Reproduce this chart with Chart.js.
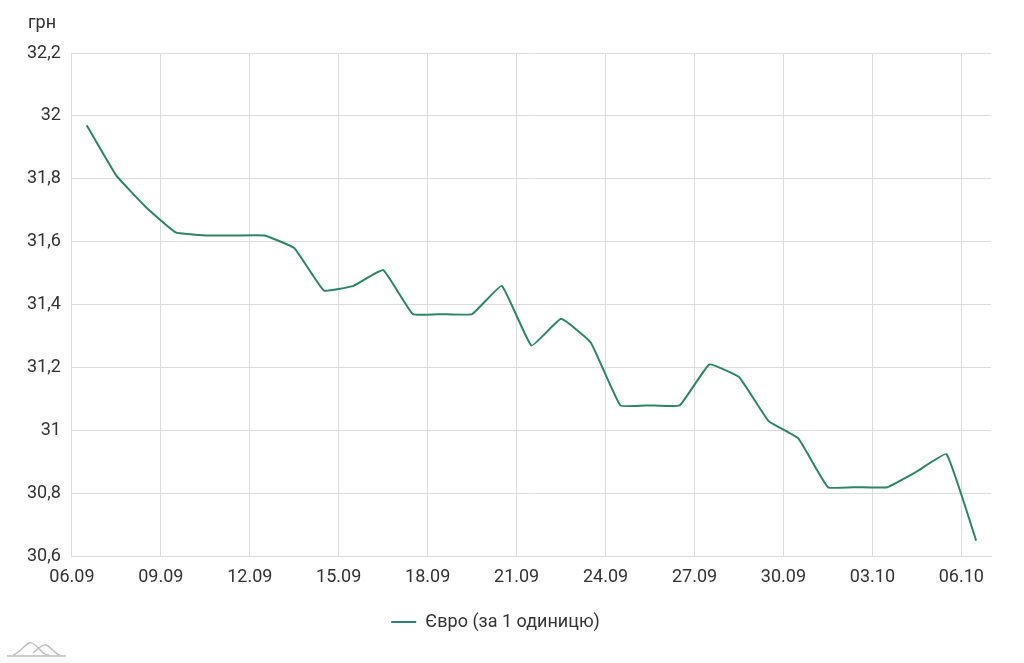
<!DOCTYPE html>
<html>
<head>
<meta charset="utf-8">
<script src="https://cdn.jsdelivr.net/npm/chart.js@4"></script>
<style>
  html, body { margin: 0; padding: 0; background: #fff; }
  #wrap { width: 1024px; height: 663px; position: relative; }
</style>
</head>
<body>
<div id="wrap"><canvas id="lineChart"></canvas></div>
<script>
// one label per day, 06.09 .. 06.10
var dates = [
  '06.09', '07.09', '08.09', '09.09', '10.09', '11.09', '12.09', '13.09',
  '14.09', '15.09', '16.09', '17.09', '18.09', '19.09', '20.09', '21.09',
  '22.09', '23.09', '24.09', '25.09', '26.09', '27.09', '28.09', '29.09',
  '30.09', '01.10', '02.10', '03.10', '04.10', '05.10', '06.10'
];
var euroRate = [
  31.97, 31.81, 31.71, 31.63, 31.62, 31.62, 31.62, 31.58,
  31.445, 31.46, 31.51, 31.37, 31.37, 31.37, 31.46, 31.27,
  31.355, 31.28, 31.08, 31.08, 31.08, 31.21, 31.17, 31.03,
  30.975, 30.82, 30.82, 30.82, 30.87, 30.925, 30.65
];
var seriesLabel = 'Євро (за 1 одиницю)';
var unitLabel = 'грн';

Chart.defaults.font.family = 'Roboto, sans-serif';
Chart.defaults.font.size = 18;
Chart.defaults.color = '#333';

var lineColor = '#2e8565';
var gridColor = '#dcdcdc';

// unit text above the y axis + little grey logo bottom left
var extrasPlugin = {
  id: 'extras',
  afterLayout: function(chart) {
    // legend sits centred on the page, not on the padded box
    chart.legend.left -= 8;
    chart.legend.right -= 8;
  },
  afterDraw: function(chart) {
    var c = chart.ctx;
    c.save();
    c.fillStyle = '#333';
    c.font = '18px Roboto, sans-serif';
    c.textAlign = 'left';
    c.textBaseline = 'middle';
    c.fillText(unitLabel, 28, 23);

    c.strokeStyle = '#bdbdbd';
    c.lineWidth = 1.3;
    c.beginPath();
    c.moveTo(7, 656); c.lineTo(66, 656);
    c.stroke();
    c.beginPath();
    c.moveTo(13, 655);
    c.bezierCurveTo(22, 652, 26, 641, 32, 643);
    c.bezierCurveTo(38, 645, 42, 656, 49, 655);
    c.stroke();
    c.beginPath();
    c.moveTo(33, 653);
    c.bezierCurveTo(38, 649, 42, 644, 46, 645);
    c.bezierCurveTo(50, 646, 54, 653, 60, 655);
    c.stroke();
    c.restore();
  }
};

function BuildLineChart() {
  var ctx = document.getElementById('lineChart');
  var points = euroRate.map(function(v, i) { return { x: i + 0.5, y: v }; });
  new Chart(ctx, {
    type: 'line',
    data: {
      datasets: [{
        label: seriesLabel,
        data: points,
        borderColor: lineColor,
        backgroundColor: lineColor,
        borderWidth: 2,
        pointRadius: 0,
        tension: 0.1,
        fill: false
      }]
    },
    options: {
      responsive: true,
      maintainAspectRatio: false,
      animation: false,
      layout: {
        padding: { left: 16, right: 33, top: 53, bottom: 22 }
      },
      plugins: {
        legend: {
          position: 'bottom',
          labels: {
            usePointStyle: true,
            pointStyle: 'line',
            pointStyleWidth: 25,
            padding: 15,
            font: { size: 18 }
          }
        },
        tooltip: { enabled: false }
      },
      scales: {
        x: {
          type: 'linear',
          min: 0,
          max: 31,
          grid: { color: gridColor, drawTicks: false },
          border: { color: gridColor },
          ticks: {
            stepSize: 3,
            includeBounds: false,
            padding: 10,
            maxRotation: 0,
            callback: function(value) { return dates[value]; }
          }
        },
        y: {
          min: 30.6,
          max: 32.2,
          grid: { color: gridColor, drawTicks: false },
          border: { display: false },
          ticks: {
            stepSize: 0.2,
            padding: 11,
            callback: function(value) {
              return (Math.round(value * 10) / 10).toString().replace('.', ',');
            }
          }
        }
      }
    },
    plugins: [extrasPlugin]
  });
}

BuildLineChart();
</script>
</body>
</html>
